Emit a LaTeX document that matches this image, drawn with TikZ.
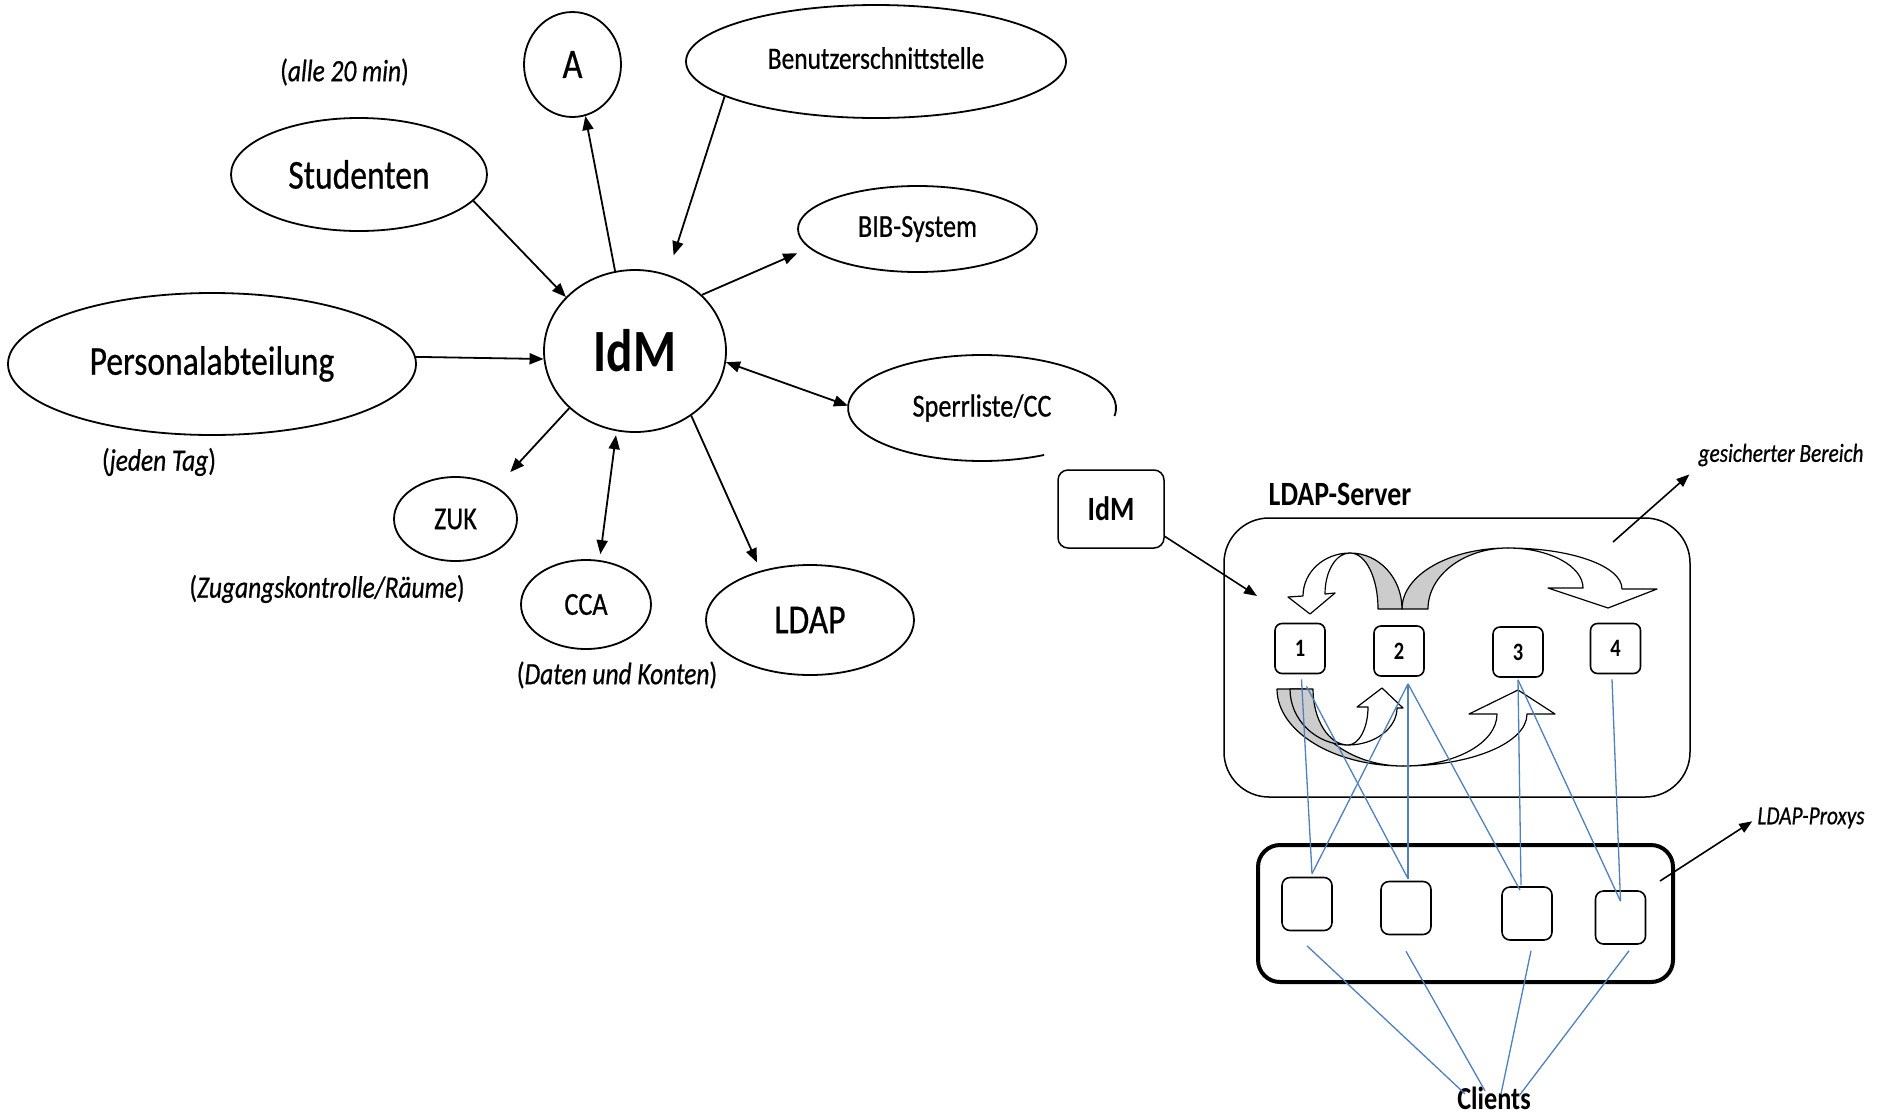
\documentclass[tikz,border=0pt]{standalone}
\usepackage{fontspec}
\setmainfont{Carlito}[FakeStretch=0.82, UprightFeatures={FakeBold=0.6}, ItalicFeatures={FakeBold=0.6}]
\usetikzlibrary{shapes.geometric,arrows.meta,calc}
\newcommand\fsz[1]{\fontsize{#1}{#1}\selectfont}
\definecolor{wireblue}{RGB}{79,129,189}

\begin{document}
\begin{tikzpicture}[x=1pt, y=-1pt,
  >={Triangle[length=14pt,width=11pt]},
  ov/.style={ellipse, draw, line width=1.8pt, inner sep=0pt},
  arr/.style={line width=1.8pt, ->},
  arrtwo/.style={line width=1.8pt, <->},
  lbl/.style={inner sep=0pt, font=\fsz{31}},
  srvbox/.style={draw, rounded corners=7pt, line width=1.6pt, fill=white,
    minimum width=50pt, minimum height=50pt, inner sep=0pt, font=\fsz{25}\bfseries},
  pxbox/.style={draw, rounded corners=8pt, line width=1.6pt, fill=white,
    minimum width=50pt, minimum height=53pt, inner sep=0pt},
  bluewire/.style={draw=wireblue, line width=1.3pt},
  ribbonback/.style={draw, line width=1.2pt, line join=round, fill=black!20},
  ribbonfront/.style={draw, line width=1.2pt, line join=round, fill=white},
  thinarr/.style={line width=1.6pt, -{Triangle[length=13pt,width=10pt]}}
]
\useasboundingbox (0,0) rectangle (1884,1117);
\fill[white] (0,0) rectangle (1884,1117);

% ---------- IdM and the connected systems ----------
\node[ov, minimum width=182pt, minimum height=162pt, font=\fsz{60}\bfseries] (idm) at (635,351) {IdM};
\node[ov, minimum width=97pt, minimum height=105pt, font=\fsz{42}] (a) at (572.5,64.5) {A};
\node[ov, minimum width=380pt, minimum height=113pt, font=\fsz{31}] (benutzer) at (876,61.5) {\raisebox{7pt}{Benutzerschnittstelle}};
\node[ov, minimum width=256pt, minimum height=113pt, font=\fsz{41}] (stud) at (359,174.5) {Studenten};
\node[ov, minimum width=239pt, minimum height=86pt, font=\fsz{32}] (bib) at (917.5,229) {BIB-System};
\node[ov, minimum width=408pt, minimum height=142pt, font=\fsz{41}] (pers) at (212,364) {\raisebox{6pt}{Personalabteilung}};
\node[ellipse, inner sep=0pt, minimum width=268pt, minimum height=106pt, font=\fsz{32}] (sperr) at (982,408) {Sperrliste/CC};
\draw[line width=1.8pt] ($(sperr.center)+(-8.7:134pt and 53pt)$)
  arc[start angle=-8.7, end angle=297.6, x radius=134pt, y radius=53pt];
\node[ov, minimum width=123pt, minimum height=84pt, font=\fsz{32}] (zuk) at (455.5,519) {ZUK};
\node[ov, minimum width=130pt, minimum height=89pt, font=\fsz{32}] (cca) at (586,604.5) {CCA};
\node[ov, minimum width=208pt, minimum height=110pt, font=\fsz{41}] (ldap) at (810,620) {LDAP};

\node[lbl] (n20) at (344.5,72) {(\textit{alle 20 min})};
\node[lbl] (ntag) at (159,462) {(\textit{jeden Tag})};
\node[lbl] (nzuk) at (327,589) {(\textit{Zugangskontrolle/Räume})};
\node[lbl] (ncca) at (617,675) {(\textit{Daten und Konten})};

\draw[arr] (stud.-13) -- (idm.142);
\draw[arr] (pers.2) -- (idm.185);
\draw[arr] (idm.104) -- (a.-76);
\draw[arr, shorten >=20pt] (benutzer.193) -- (idm.67);
\draw[arr, shorten >=13pt] (idm.40) -- (bib.190);
\draw[arrtwo] (idm.-7) -- (sperr.179);
\draw[arr, shorten >=20pt] (idm.221) -- (zuk.38);
\draw[arrtwo, shorten <=4pt, shorten >=6pt] (idm.257) -- (cca.73);
\draw[arr, shorten >=9pt] (idm.-49) -- (ldap.135);

% ---------- LDAP servers and proxies ----------
\node[draw, rounded corners=10pt, line width=1.5pt, minimum width=106pt, minimum height=78pt,
  font=\fsz{34}\bfseries] (idmbox) at (1111,509) {IdM};
\node[inner sep=0pt, font=\fsz{34}\bfseries] (srvlabel) at (1340,494) {LDAP-Server};
\node[draw, rounded corners=45pt, line width=1.5pt, minimum width=466pt, minimum height=279pt] (server) at (1457,657.5) {};

% replication ribbons above the servers
\path[ribbonback] (1402,609) .. controls (1402,575) and (1449,548) .. (1508,548)
  .. controls (1464,548) and (1428,575) .. (1428,609) -- cycle;
\path[ribbonfront] (1508,548) .. controls (1571,548) and (1622,566) .. (1622,589)
  -- (1657,589) -- (1608,608) -- (1548,588) -- (1583,588)
  .. controls (1583,566) and (1549,548) .. (1508,548) -- cycle;
\path[ribbonback] (1402,609) .. controls (1402,578) and (1379,553) .. (1350,553)
  .. controls (1366,553) and (1378,578) .. (1378,609) -- cycle;
\path[ribbonfront] (1350,553) .. controls (1324,553) and (1303,572) .. (1303,596)
  -- (1288,597) -- (1310,614) -- (1335,593) -- (1325,594)
  .. controls (1325,571) and (1336,553) .. (1350,553) -- cycle;

% replication ribbons below the servers
\path[ribbonback] (1277,689) .. controls (1277,731) and (1333,766) .. (1403,766)
  .. controls (1349,766) and (1305,731) .. (1305,689) -- cycle;
\path[ribbonfront] (1403,766) .. controls (1471,766) and (1527,743) .. (1527,714)
  -- (1555,714) -- (1518,690) -- (1469,714) -- (1497,714)
  .. controls (1497,743) and (1455,766) .. (1403,766) -- cycle;
\path[ribbonback] (1290,689) .. controls (1290,720) and (1316,745) .. (1348,745)
  .. controls (1329,745) and (1313,720) .. (1313,689) -- cycle;
\path[ribbonfront] (1348,745) .. controls (1375,745) and (1397,728) .. (1397,708)
  -- (1403,708) -- (1382,688) -- (1357,707) -- (1368,707)
  .. controls (1368,728) and (1359,745) .. (1348,745) -- cycle;

\node[srvbox] (b1) at (1300,648.5) {1};
\node[srvbox] (b2) at (1399,651) {2};
\node[srvbox] (b3) at (1518,652) {3};
\node[srvbox] (b4) at (1615.5,648.5) {4};

\node[draw, rounded corners=22pt, line width=4pt, minimum width=415pt, minimum height=137pt] (proxies) at (1465.5,913.5) {};
\node[pxbox] (p1) at (1307,904) {};
\node[pxbox] (p2) at (1406,908) {};
\node[pxbox] (p3) at (1527,913.5) {};
\node[pxbox] (p4) at (1620.5,917.5) {};

\node[inner sep=0pt, anchor=base, font=\fsz{32}\bfseries] (clients) at (1494,1109) {Clients};
\node[inner sep=0pt, font=\fsz{26}\itshape] (gblabel) at (1781,455) {gesicherter Bereich};
\node[inner sep=0pt, font=\fsz{26}\itshape] (pxlabel) at (1811,818) {LDAP-Proxys};

% server to proxy links
\draw[bluewire] ([xshift=1.5pt,yshift=-5pt]b1.south) -- ([xshift=5pt,yshift=3pt]p1.north);
\draw[bluewire] ([xshift=6.5pt,yshift=-12pt]b1.south) -- ([xshift=2pt,yshift=2pt]p2.north);
\draw[bluewire] ([xshift=9pt,yshift=-7pt]b2.south) -- ([xshift=5pt,yshift=3pt]p1.north);
\draw[bluewire] ([xshift=9pt,yshift=-7pt]b2.south) -- ([xshift=2pt,yshift=2pt]p2.north);
\draw[bluewire] ([xshift=9pt,yshift=-7pt]b2.south) -- ([xshift=-7pt,yshift=-4pt]p3.north);
\draw[bluewire] ([yshift=-2pt]b3.south) -- ([xshift=-6pt,yshift=1pt]p3.north);
\draw[bluewire] ([yshift=-2pt]b3.south) -- ([yshift=-11pt]p4.north);
\draw[bluewire] ([xshift=-3.5pt,yshift=-5pt]b4.south) -- ([yshift=-11pt]p4.north);

% proxy to client links
\draw[bluewire] ([yshift=-14.5pt]p1.south) -- ([xshift=-29pt,yshift=-7.5pt]clients.north);
\draw[bluewire] ([yshift=-16pt]p2.south) -- ([xshift=-9pt,yshift=-4.5pt]clients.north);
\draw[bluewire] ([xshift=4pt,yshift=-10pt]p3.south) -- ([xshift=7pt,yshift=-7.5pt]clients.north);
\draw[bluewire] ([xshift=8.5pt,yshift=-6pt]p4.south) -- ([xshift=25pt,yshift=-9.5pt]clients.north);

% pointers
\coordinate (srvin) at (1257,596);
\coordinate (gbs) at (1613,542);
\coordinate (pxs) at (1660,881);
\draw[thinarr] (idmbox.-27) -- (srvin);
\draw[thinarr, shorten >=12pt] (gbs) -- (gblabel.south west);
\draw[thinarr, shorten >=6pt] (pxs) -- (pxlabel.west);
\end{tikzpicture}
\end{document}
